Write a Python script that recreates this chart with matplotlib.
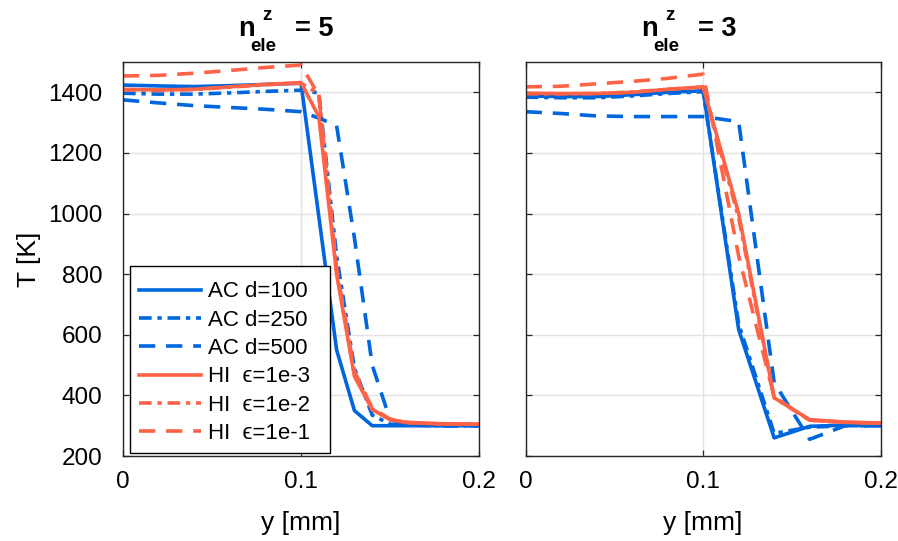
import matplotlib
matplotlib.use('Agg')
import matplotlib.pyplot as plt
from matplotlib.patches import Rectangle

# donnees
x_gauche = [0, 0.02, 0.04, 0.06, 0.08, 0.1, 0.11, 0.12, 0.13, 0.14, 0.15, 0.16, 0.18, 0.2]
x_droite = [0, 0.02, 0.04, 0.06, 0.08, 0.1, 0.12, 0.14, 0.16, 0.18, 0.2]

ac100_g = [1424, 1421, 1419, 1422, 1426, 1430, 990, 550, 350, 300, 300, 300, 300, 300]
ac250_g = [1397, 1394, 1394, 1398, 1403, 1407, 1398, 860, 490, 335, 305, 302, 300, 300]
ac500_g = [1375, 1365, 1356, 1350, 1344, 1336, 1315, 1290, 920, 500, 320, 303, 300, 300]
hi3_g = [1410, 1408, 1410, 1418, 1426, 1432, 1320, 800, 463, 353, 320, 310, 306, 305]
hi2_g = [1408, 1406, 1409, 1417, 1425, 1430, 1395, 810, 470, 355, 320, 310, 306, 305]
hi1_g = [1454, 1456, 1463, 1472, 1482, 1490, 1390, 820, 480, 358, 322, 311, 306, 305]

ac100_d = [1388, 1386, 1386, 1392, 1400, 1405, 617, 260, 298, 302, 300]
ac250_d = [1384, 1382, 1382, 1388, 1396, 1402, 635, 275, 295, 300, 300]
ac500_d = [1336, 1330, 1322, 1320, 1320, 1320, 1303, 442, 255, 300, 300]
hi3_d = [1397, 1396, 1396, 1400, 1410, 1418, 1000, 392, 320, 312, 309]
hi2_d = [1395, 1395, 1396, 1401, 1410, 1417, 985, 392, 318, 311, 308]
hi1_d = [1418, 1420, 1428, 1436, 1446, 1460, 860, 395, 318, 311, 308]

labels = ['AC d=100', 'AC d=250', 'AC d=500',
          'HI  \u03f5=1e-3', 'HI  \u03f5=1e-2', 'HI  \u03f5=1e-1']
n_ele = ['5', '3']

bleu = '#0066dd'
rouge = '#ff6347'
plein = '-'
tiret_point = (0, (3.5, 1.6, 1.2, 1.6))
tiret = (0, (4.5, 3))
styles = [(bleu, plein), (bleu, tiret_point), (bleu, tiret),
          (rouge, plein), (rouge, tiret_point), (rouge, tiret)]

plt.rcParams['font.family'] = ['Liberation Sans', 'DejaVu Sans']

W, H = 898, 541


def titre(fig, x0, valeur):
    # titre style MATLAB : n^z_ele = N (exposant et indice decales)
    def t(dx, y, s, size):
        fig.text((x0 + dx) / W, 1 - y / H, s, fontsize=size, fontweight='bold',
                 ha='left', va='baseline')
    t(0, 36.5, 'n', 19.5)
    t(24, 19.5, 'z', 13.5)
    t(12, 51, 'ele', 13.5)
    t(57, 36.5, '= ' + valeur, 19.5)


def tracer():
    fig = plt.figure(figsize=(8.98, 5.41), dpi=100)
    ax1 = fig.add_axes([0.137, 0.1571, 0.3964, 0.7283])
    ax2 = fig.add_axes([0.5854, 0.1571, 0.3953, 0.7283])

    series = [
        (ax1, x_gauche, [ac100_g, ac250_g, ac500_g, hi3_g, hi2_g, hi1_g]),
        (ax2, x_droite, [ac100_d, ac250_d, ac500_d, hi3_d, hi2_d, hi1_d]),
    ]
    for ax, x, ys in series:
        for y, (c, ls), lab in zip(ys, styles, labels):
            ax.plot(x, y, color=c, linestyle=ls, linewidth=2.6, label=lab)
        ax.set_xlim(0, 0.2)
        ax.set_ylim(200, 1500)
        ax.set_xticks([0, 0.1, 0.2])
        ax.set_xticklabels(['0', '0.1', '0.2'])
        ax.set_yticks([200, 400, 600, 800, 1000, 1200, 1400])
        ax.grid(True, color='#e3e3e3', linewidth=1.0)
        ax.set_axisbelow(True)
        ax.tick_params(direction='in', length=4, width=0.9, top=True, right=True,
                       labelsize=17.5, colors='#262626', labelcolor='black')
        ax.tick_params(axis='x', pad=11)
        ax.tick_params(axis='y', pad=15)
        for s in ax.spines.values():
            s.set_color('#262626')
            s.set_linewidth(1.0)
        ax.set_xlabel('y [mm]', fontsize=19, labelpad=13)

    ax2.tick_params(labelleft=False)
    ax1.set_ylabel('T [K]', fontsize=19, labelpad=5)

    titre(fig, 238, n_ele[0])
    titre(fig, 641, n_ele[1])

    # cadre de legende plus large, comme dans MATLAB
    cadre = Rectangle((0.0197, 0.0076), 0.5618, 0.475, transform=ax1.transAxes,
                      facecolor='white', edgecolor='black', linewidth=1.0, zorder=4.9)
    ax1.add_patch(cadre)
    leg = ax1.legend(loc='lower left', bbox_to_anchor=(0.0197, 0.0076), borderaxespad=0,
                     fontsize=16, handlelength=2.8, handletextpad=0.3,
                     labelspacing=0.33, frameon=False, borderpad=0.4)
    leg.set_zorder(5)

    fig.savefig('out.png', dpi=100)


if __name__ == '__main__':
    tracer()
